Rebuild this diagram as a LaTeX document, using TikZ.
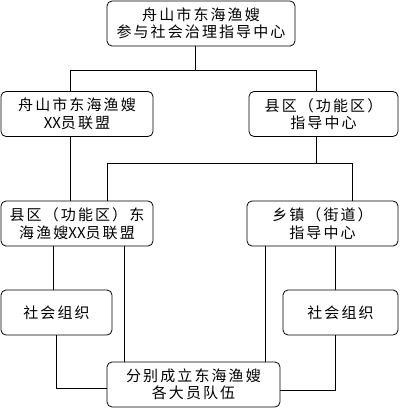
\documentclass[tikz,border=0pt]{standalone}
\usepackage{fontspec}
\newfontfamily\cjk[LetterSpace=14]{Noto Sans CJK SC}
\newfontfamily\cjktight{Noto Sans CJK SC}
\newcommand{\xx}{{\cjktight XX}}
\usetikzlibrary{positioning}

\begin{document}
\begin{tikzpicture}[
        x=1pt, y=-1pt,
        unit/.style={draw, align=center, inner sep=0pt, minimum height=45pt, rounded corners=5pt,
          line width=0.8pt, font=\cjk\fontsize{15}{17.5}\selectfont},
        link/.style={draw, line width=0.8pt}
      ]
      \useasboundingbox (0,0) rectangle (400,409);

      \node (city) [unit, minimum width=188pt] at (201,23.5) {舟山市东海渔嫂\\参与社会治理指导中心};
      \node (lu) [unit, minimum width=152pt] at (77,114) {舟山市东海渔嫂\\\xx 员联盟};
      \node (rg) [unit, minimum width=149pt] at (323.5,114) {县区（功能区）\\指导中心};
      \node (cu) [unit, minimum width=152pt] at (77,223.5) {县区（功能区）东\\海渔嫂\xx 员联盟};
      \node (tg) [unit, minimum width=151pt] at (322.5,223.5) {乡镇（街道）\\指导中心};
      \node (so1) [unit, minimum width=111pt] at (56.5,312.5) {社会组织};
      \node (so2) [unit, minimum width=115pt] at (340.5,312.5) {社会组织};
      \node (tm) [unit, minimum width=173pt] at (193.5,384.5) {分别成立东海渔嫂\\各大员队伍};

      \path[link] ([xshift=-6pt]city.south) -- ++(0,24) -| ([xshift=-7pt]lu.north);
      \path[link] ([xshift=-6pt]city.south) -- ++(0,24) -| ([xshift=-7.5pt]rg.north);
      \path[link] ([xshift=-7pt]lu.south) -- ([xshift=-7pt]cu.north);
      \path[link] ([xshift=-7.5pt]rg.south) -- ++(0,26) -| ([xshift=30pt]cu.north);
      \path[link] ([xshift=-7.5pt]rg.south) -- ++(0,26) -| ([xshift=29.5pt]tg.north);
      \path[link] ([xshift=-24pt]cu.south) -- ([xshift=-3.5pt]so1.north);
      \path[link] ([xshift=47pt]cu.south) -- ([xshift=-69.5pt]tm.north);
      \path[link] ([xshift=-57.5pt]tg.south) -- ([xshift=71.5pt]tm.north);
      \path[link] ([xshift=12.5pt]tg.south) -- ([xshift=-5.5pt]so2.north);
      \path[link] (so1.south) |- ([yshift=-3.5pt]tm.west);
      \path[link] ([xshift=-5.5pt]so2.south) |- ([yshift=-5.5pt]tm.east);

    \end{tikzpicture}
\end{document}
